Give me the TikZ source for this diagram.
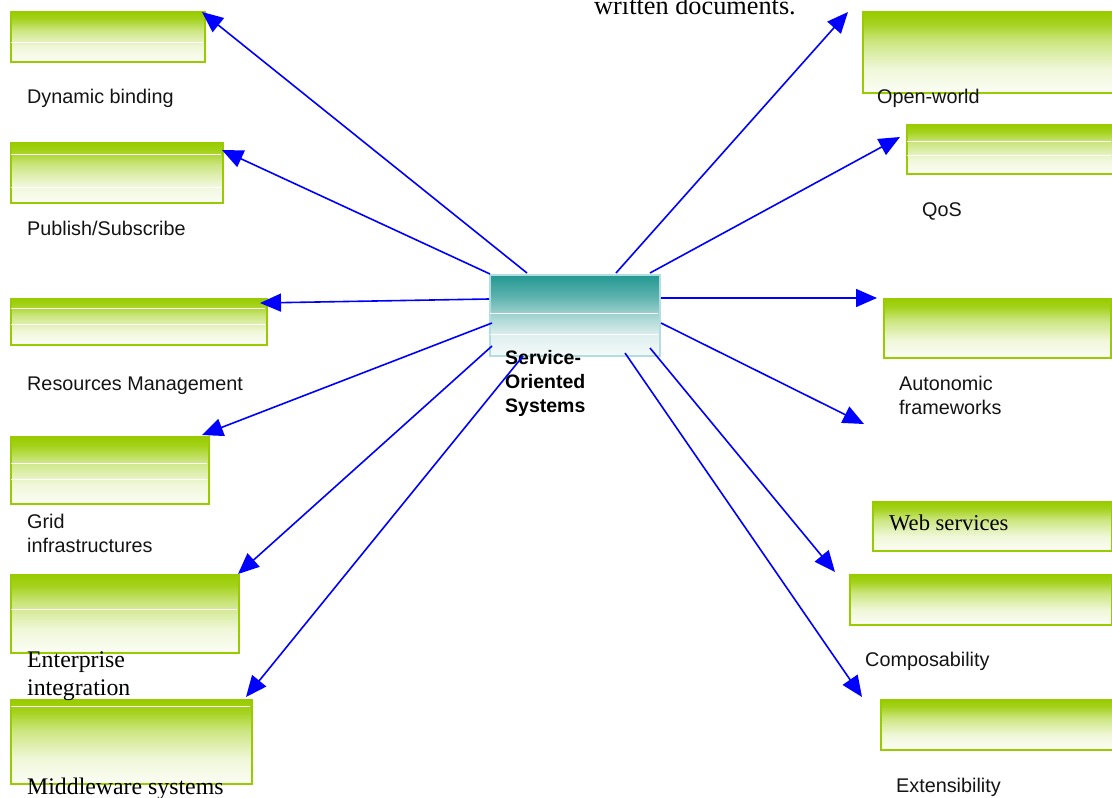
\documentclass[tikz,border=0pt]{standalone}
\usepackage{fontspec}
\setmainfont{Liberation Serif}
\setsansfont{Liberation Sans}
\usetikzlibrary{arrows.meta}
\definecolor{boxgreen}{RGB}{153,204,0}
\definecolor{tealtop}{RGB}{36,152,146}
\definecolor{tealborder}{RGB}{178,222,224}
\definecolor{arrowblue}{RGB}{0,0,255}
\colorlet{gA}{white!96!boxgreen}
\colorlet{gB}{white!85!boxgreen}
\colorlet{gC}{boxgreen!50!white}
\colorlet{gD}{boxgreen!88!white}
\colorlet{tA}{white!95!tealtop}
\colorlet{tB}{white!85!tealtop}
\colorlet{tC}{tealtop!42!white}
\colorlet{tD}{tealtop!75!white}
\pgfdeclareverticalshading{greenfade}{100bp}{color(0bp)=(white); color(25bp)=(gA); color(40bp)=(gB); color(57bp)=(gC); color(68bp)=(gD); color(75bp)=(boxgreen); color(100bp)=(boxgreen)}
\pgfdeclareverticalshading{tealfade}{100bp}{color(0bp)=(white); color(25bp)=(tA); color(38bp)=(tB); color(50bp)=(tC); color(62bp)=(tD); color(75bp)=(tealtop); color(100bp)=(tealtop)}
\tikzset{
  gbox/.style={rectangle, draw=boxgreen, line width=2pt, shading=greenfade, inner sep=0pt, anchor=north west},
  tbox/.style={rectangle, draw=tealborder, line width=2pt, shading=tealfade, inner sep=0pt, anchor=north west},
  arr/.style={draw=arrowblue, line width=1.6pt, -{Triangle[length=21pt,width=18pt]}},
  lab/.style={font=\sffamily\fontsize{19.8}{24}\selectfont, anchor=base west, inner sep=0pt, align=left, text=black!92},
  blab/.style={font=\sffamily\bfseries\fontsize{19.5}{24}\selectfont, anchor=base west, inner sep=0pt, align=left, text=black},
  slab/.style={font=\rmfamily\fontsize{23.8}{27.5}\selectfont, anchor=base west, inner sep=0pt, align=left, text=black},
  stripe/.style={draw=white, line width=1pt}
}
\begin{document}
\begin{tikzpicture}[x=1pt,y=-1pt]
\useasboundingbox (0,0) rectangle (1112,798);

% top fragment of surrounding text (cut off at the top edge, as in the reference)
\node[slab, font=\rmfamily\fontsize{26.3}{30}\selectfont] (frag) at (594,14) {written documents.};

% left boxes
\node[gbox, minimum width=194pt, minimum height=50pt] (b1) at (10,11) {};
\node[gbox, minimum width=212pt, minimum height=60pt] (b2) at (10,142) {};
\node[gbox, minimum width=256pt, minimum height=46pt] (b3) at (10,298) {};
\node[gbox, minimum width=198pt, minimum height=67pt] (b4) at (10,436) {};
\node[gbox, minimum width=228pt, minimum height=78pt] (b5) at (10,574) {};
\node[gbox, minimum width=241pt, minimum height=84pt] (b6) at (10,699) {};
% right boxes
\node[gbox, minimum width=250pt, minimum height=81pt] (b7) at (862,11) {};
\node[gbox, minimum width=206pt, minimum height=49pt] (b8) at (906,124) {};
\node[gbox, minimum width=227pt, minimum height=59pt] (b9) at (883,298) {};
\node[gbox, minimum width=239pt, minimum height=49pt] (b10) at (872,501) {};
\node[gbox, minimum width=262pt, minimum height=50pt] (b11) at (849,574) {};
\node[gbox, minimum width=232pt, minimum height=50pt] (b12) at (880,699) {};
% centre box
\node[tbox, minimum width=170pt, minimum height=81pt] (sos) at (489,274) {};

% white stripes inside boxes
\draw[stripe] (11,42) -- (203,42);
\draw[stripe] (11,154) -- (221,154);
\draw[stripe] (11,187) -- (221,187);
\draw[stripe] (11,308) -- (265,308);
\draw[stripe] (11,324) -- (265,324);
\draw[stripe] (11,463) -- (207,463);
\draw[stripe] (11,479) -- (207,479);
\draw[stripe] (11,609) -- (237,609);
\draw[stripe] (11,706) -- (250,706);
\draw[stripe] (907,141) -- (1111,141);
\draw[stripe] (907,155) -- (1111,155);
\draw[stripe] (490,313) -- (658,313);
\draw[stripe] (490,334) -- (658,334);

% labels (multi-line labels are anchored at the baseline of their last line)
\node[lab] (l1) at (27,103) {Dynamic binding};
\node[lab] (l2) at (27,235) {Publish/Subscribe};
\node[lab] (l3) at (27,390) {Resources Management};
\node[lab] (l4) at (27,552) {Grid\\infrastructures};
\node[slab] (l5) at (27,695) {Enterprise\\integration};
\node[slab] (l6) at (27,794) {Middleware systems};
\node[lab] (l7) at (877,103) {Open-world};
\node[lab] (l8) at (922,216) {QoS};
\node[lab] (l9) at (899,414) {Autonomic\\frameworks};
\node[slab, font=\rmfamily\fontsize{22.6}{26}\selectfont] (l10) at (889,530) {Web services};
\node[lab] (l11) at (865,666) {Composability};
\node[lab] (l12) at (896,792) {Extensibility};
\node[blab] (lsos) at (505,412) {Service-\\Oriented\\Systems};

% free end
\coordinate (free) at (864,424);

% connectors
\draw[arr] ([shift={(38,-1)}]sos.north west) -- ([shift={(-4,1)}]b1.north east);
\draw[arr] ([shift={(1,0)}]sos.north west) -- ([shift={(-2,8)}]b2.north east);
\draw[arr] ([shift={(0,25)}]sos.north west) -- ([shift={(-8,5)}]b3.north east);
\draw[arr] ([shift={(3,49)}]sos.north west) -- ([shift={(-8,-1)}]b4.north east);
\draw[arr] ([shift={(3,72)}]sos.north west) -- ([shift={(-2,0)}]b5.north east);
\draw[arr] ([shift={(34,82)}]sos.north west) -- ([shift={(-7,-2)}]b6.north east);
\draw[arr] ([shift={(127,-1)}]sos.north west) -- ([shift={(-14,1)}]b7.north west);
\draw[arr] ([shift={(161,-1)}]sos.north west) -- ([shift={(-6,13)}]b8.north west);
\draw[arr] ([shift={(172,24)}]sos.north west) -- ([shift={(-6,0)}]b9.north west);
\draw[arr] ([shift={(172,49)}]sos.north west) -- (free);
\draw[arr] ([shift={(161,74)}]sos.north west) -- ([shift={(-14,-2)}]b11.north west);
\draw[arr] ([shift={(136,79)}]sos.north west) -- ([shift={(-18,-2)}]b12.north west);
\end{tikzpicture}
\end{document}
